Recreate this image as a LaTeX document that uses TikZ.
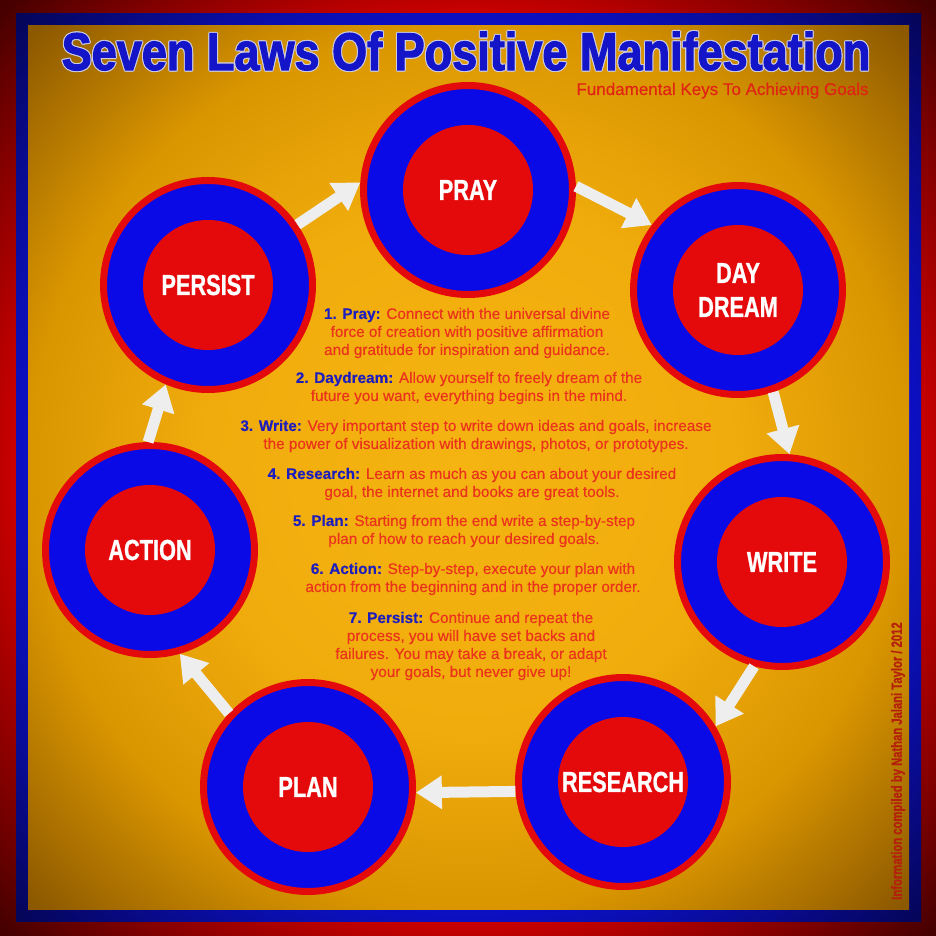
\documentclass[tikz,border=0pt]{standalone}
\usepackage{fontspec}
\setmainfont{Liberation Sans}[FakeBold=0.35]
\newfontfamily\condfont[FakeStretch=0.75,FakeBold=0.8]{Liberation Sans Bold}
\newfontfamily\titlefont[FakeStretch=0.85,FakeBold=2]{Liberation Sans Bold}
\usetikzlibrary{arrows.meta}

\definecolor{framered}{RGB}{204,0,0}
\definecolor{framereddark}{RGB}{70,0,0}
\definecolor{frameblue}{RGB}{12,16,200}
\definecolor{framebluedark}{RGB}{5,5,90}
\definecolor{bgcenter}{RGB}{245,180,18}
\definecolor{bgmid}{RGB}{240,172,12}
\definecolor{bgedge}{RGB}{218,150,0}
\definecolor{bgcorner}{RGB}{140,88,0}
\definecolor{ringred}{RGB}{228,10,12}
\definecolor{ringblue}{RGB}{10,10,230}
\definecolor{titleblue}{RGB}{20,20,200}
\definecolor{titleedge}{RGB}{205,205,225}
\definecolor{subred}{RGB}{225,35,20}
\definecolor{bodyred}{RGB}{235,50,28}
\definecolor{keyblue}{RGB}{30,30,190}
\definecolor{creditred}{RGB}{180,32,12}
\definecolor{arrowwhite}{RGB}{238,238,238}

\pgfdeclareradialshading{redvig}{\pgfpointorigin}{color(0bp)=(framered); color(24bp)=(framered); color(27bp)=(framered!80!black); color(35bp)=(framereddark); color(50bp)=(framereddark)}
\pgfdeclareradialshading{bluevig}{\pgfpointorigin}{color(0bp)=(frameblue); color(24bp)=(frameblue); color(28bp)=(frameblue!80!black); color(35bp)=(framebluedark); color(50bp)=(framebluedark)}
\pgfdeclareradialshading{orangevig}{\pgfpointorigin}{color(0bp)=(bgcenter); color(15bp)=(bgmid); color(25bp)=(bgedge); color(35bp)=(bgcorner); color(50bp)=(bgcorner)}

\newcommand{\lawkey}[1]{\textcolor{keyblue}{\textbf{#1}}}

\begin{document}
\begin{tikzpicture}[x=1pt, y=-1pt,
    ring/.style={circle, fill=ringblue, draw=ringred, line width=7pt,
      minimum size=209pt, inner sep=0pt},
    core/.style={circle, fill=ringred, minimum size=130pt, inner sep=0pt,
      text=white, align=center,
      font=\condfont\fontsize{29}{34}\selectfont},
    flow/.style={draw=arrowwhite, line width=11pt,
      -{Triangle[width=32pt,length=26pt]}},
    titletext/.style={anchor=base, text=titleblue,
      font=\titlefont\fontsize{53}{60}\selectfont},
    lawtext/.style={align=center, text=bodyred,
      font=\fontsize{15.3}{18}\selectfont}
  ]
  \useasboundingbox (0,0) rectangle (936,936);
  % frame and background
  \shade[shading=redvig] (0,0) rectangle (936,936);
  \shade[shading=bluevig] (16,14) rectangle (921,921);
  \shade[shading=orangevig] (28,26) rectangle (909,909);

  % title, with a thin light edge
  \foreach \a in {0,45,...,315}
    \node[titletext, text=titleedge] (title-\a) at ([shift={(\a:1.1)}] 466,70)
      {Seven Laws Of Positive Manifestation};
  \node[titletext] (title) at (466,70) {Seven Laws Of Positive Manifestation};
  \node[anchor=base east, text=subred, font=\fontsize{17}{20}\selectfont]
    (subtitle) at (872,95) {Fundamental Keys To Achieving Goals};

  % the seven circles
  \node[ring] (pray) at (468,190) {};
  \node[core] (prayc) at (pray) {PRAY};
  \node[ring] (dream) at (738,290) {};
  \node[core] (dreamc) at (dream) {DAY\\DREAM};
  \node[ring] (write) at (782,562) {};
  \node[core] (writec) at (write) {WRITE};
  \node[ring] (research) at (623,782) {};
  \node[core] (researchc) at (research) {RESEARCH};
  \node[ring] (plan) at (308,787) {};
  \node[core] (planc) at (plan) {PLAN};
  \node[ring] (action) at (150,550) {};
  \node[core] (actionc) at (action) {ACTION};
  \node[ring] (persist) at (208,285) {};
  \node[core] (persistc) at (persist) {PERSIST};

  % arrows
  \draw[flow] (persist.34) -- (pray.176);
  \draw[flow] (pray.2) -- (dream.143);
  \draw[flow] (dream.-71) -- (write.86);
  \draw[flow] (write.-105) -- (research.31);
  \draw[flow] (research.185) -- (plan.-3);
  \draw[flow] (plan.137) -- (action.-74);
  \draw[flow] (action.91) -- (persist.-113);

  % descriptions
  \node[lawtext] (praytext) at (467,333)
    {\lawkey{1. Pray:} Connect with the universal divine\\
     force of creation with positive affirmation\\
     and gratitude for inspiration and guidance.};
  \node[lawtext] (dreamtext) at (469,388)
    {\lawkey{2. Daydream:} Allow yourself to freely dream of the\\
     future you want, everything begins in the mind.};
  \node[lawtext] (writetext) at (476,436)
    {\lawkey{3. Write:} Very important step to write down ideas and goals, increase\\
     the power of visualization with drawings, photos, or prototypes.};
  \node[lawtext] (researchtext) at (472,484)
    {\lawkey{4. Research:} Learn as much as you can about your desired\\
     goal, the internet and books are great tools.};
  \node[lawtext] (plantext) at (464,531)
    {\lawkey{5. Plan:} Starting from the end write a step-by-step\\
     plan of how to reach your desired goals.};
  \node[lawtext] (actiontext) at (473,579)
    {\lawkey{6. Action:} Step-by-step, execute your plan with\\
     action from the beginning and in the proper order.};
  \node[lawtext] (persisttext) at (471,646)
    {\lawkey{7. Persist:} Continue and repeat the\\
     process, you will have set backs and\\
     failures. You may take a break, or adapt\\
     your goals, but never give up!};

  % credit
  \node[rotate=90, text=creditred, font=\condfont\fontsize{15}{17}\selectfont]
    (credit) at (898,761) {Information compiled by Nathan Jalani Taylor / 2012};
\end{tikzpicture}
\end{document}
